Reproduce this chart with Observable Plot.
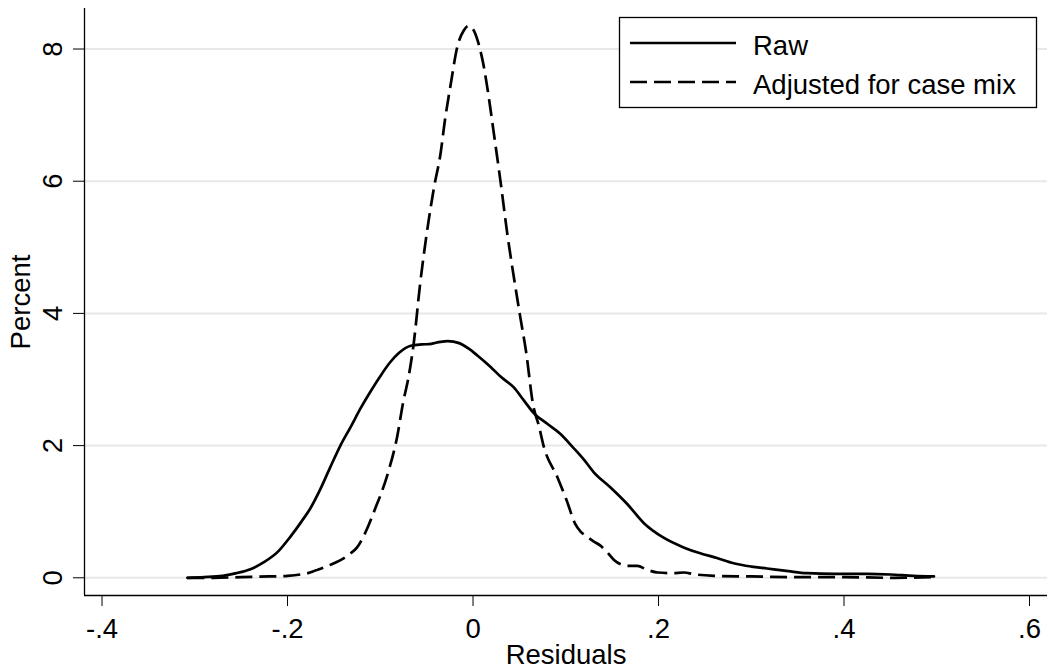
<!DOCTYPE html>
<html><head><meta charset="utf-8">
<script src="https://cdn.jsdelivr.net/npm/d3@7"></script>
<script src="https://cdn.jsdelivr.net/npm/@observablehq/plot@0.6"></script>
<style>
html,body{margin:0;padding:0;background:#fff;}
#wrap{position:relative;width:1050px;height:671px;}
</style></head><body><div id="wrap"></div>
<script>
const seriesNames = ["Raw", "Adjusted for case mix"];
const xTicks = [-0.4, -0.2, 0, 0.2, 0.4, 0.6];
const yTicks = [0, 2, 4, 6, 8];
const xDomain = [-0.4189, 0.6194];
const yDomain = [-0.268, 8.613];

const rawX = [-0.308,-0.29,-0.27,-0.255,-0.24,-0.225,-0.21,-0.197,-0.185,-0.175,-0.165,-0.154,-0.143,-0.132,-0.121,-0.11,-0.1,-0.09,-0.08,-0.067,-0.055,-0.045,-0.035,-0.027,-0.015,-0.005,0.005,0.019,0.03,0.044,0.055,0.065,0.08,0.094,0.108,0.12,0.13,0.148,0.166,0.184,0.205,0.227,0.245,0.263,0.281,0.3,0.317,0.34,0.36,0.39,0.425,0.45,0.475,0.497];
const rawY = [0,0.01,0.03,0.07,0.13,0.24,0.4,0.62,0.85,1.06,1.33,1.67,2.0,2.28,2.57,2.83,3.05,3.25,3.4,3.51,3.53,3.54,3.57,3.58,3.55,3.47,3.36,3.19,3.04,2.88,2.68,2.5,2.33,2.18,1.97,1.78,1.6,1.37,1.12,0.83,0.61,0.46,0.37,0.3,0.22,0.17,0.14,0.1,0.07,0.06,0.06,0.05,0.03,0.02];

const adjX = [-0.308,-0.28,-0.25,-0.22,-0.2,-0.186,-0.178,-0.17,-0.16,-0.15,-0.14,-0.132,-0.125,-0.119,-0.114,-0.109,-0.104,-0.1,-0.091,-0.082,-0.075,-0.07,-0.064,-0.057,-0.05,-0.042,-0.035,-0.03,-0.024,-0.017,-0.01,-0.005,0.0,0.006,0.011,0.017,0.022,0.03,0.037,0.044,0.051,0.057,0.065,0.071,0.076,0.091,0.101,0.11,0.116,0.123,0.13,0.137,0.145,0.152,0.16,0.167,0.177,0.188,0.199,0.215,0.227,0.24,0.26,0.3,0.35,0.4,0.45,0.497];
const adjY = [0,0,0.01,0.02,0.03,0.05,0.07,0.11,0.16,0.22,0.29,0.37,0.46,0.6,0.75,0.92,1.1,1.24,1.62,2.12,2.68,3.0,3.54,4.45,5.2,5.91,6.42,6.95,7.47,8.03,8.28,8.35,8.3,8.08,7.78,7.27,6.77,5.96,5.2,4.55,3.94,3.44,2.6,2.3,2.0,1.52,1.17,0.82,0.7,0.62,0.55,0.49,0.38,0.27,0.2,0.18,0.18,0.12,0.08,0.07,0.08,0.05,0.03,0.02,0.01,0.01,0.0,0.01];

const rawData = rawX.map((x, i) => ({series: seriesNames[0], x, y: rawY[i]}));
const adjData = adjX.map((x, i) => ({series: seriesNames[1], x, y: adjY[i]}));

const fmt = v => v === 0 ? "0" : (v < 0 ? "-" : "") + String(+Math.abs(v).toFixed(1)).replace(/^0\./, ".");
const FONT = "'Liberation Sans', Arial, Helvetica, sans-serif";

const chart = Plot.plot({
  width: 1050, height: 671,
  marginLeft: 84, marginRight: 3, marginTop: 8, marginBottom: 76,
  style: {fontFamily: FONT, fontSize: "27.5px", color: "#000", background: "#fff"},
  x: {domain: xDomain},
  y: {domain: yDomain},
  marks: [
    Plot.gridY(yTicks, {stroke: "#e8e8e8", strokeOpacity: 1, strokeWidth: 2}),
    Plot.axisX(xTicks, {tickSize: 11, tickPadding: 12, tickFormat: fmt, stroke: "#000",
      label: "Residuals", labelAnchor: "center", labelOffset: 68, labelArrow: "none"}),
    Plot.axisY(yTicks, {tickSize: 11, tickPadding: 12, tickRotate: -90, tickFormat: d => String(d), stroke: "#000",
      label: "Percent", labelAnchor: "center", labelOffset: 74, labelArrow: "none"}),
    Plot.ruleX([xDomain[0]], {stroke: "#000", strokeWidth: 1.3}),
    Plot.ruleY([yDomain[0]], {stroke: "#000", strokeWidth: 1.3}),
    Plot.line(rawData, {x: "x", y: "y", stroke: "#000", strokeWidth: 2.7, curve: "monotone-x"}),
    Plot.line(adjData, {x: "x", y: "y", stroke: "#000", strokeWidth: 2.7, curve: "monotone-x", strokeDasharray: "17,7", strokeLinecap: "butt"})
  ]
});
const wrap = document.getElementById("wrap");
wrap.appendChild(chart);

// legend overlay (inside plot region, as in the reference)
const leg = d3.create("svg")
  .attr("width", 1050).attr("height", 671)
  .style("position", "absolute").style("left", "0px").style("top", "0px")
  .style("pointer-events", "none");
leg.append("rect").attr("x", 619.5).attr("y", 17.5).attr("width", 417).attr("height", 90)
  .attr("fill", "#fff").attr("stroke", "#000").attr("stroke-width", 1.3);
const rows = [
  {name: seriesNames[0], dash: null, ly: 43, ty: 55},
  {name: seriesNames[1], dash: "17,7", ly: 82, ty: 94}
];
for (const r of rows) {
  const ln = leg.append("line").attr("x1", 630).attr("x2", 736).attr("y1", r.ly).attr("y2", r.ly)
    .attr("stroke", "#000").attr("stroke-width", 2.7);
  if (r.dash) ln.attr("stroke-dasharray", r.dash);
  leg.append("text").attr("x", 753).attr("y", r.ty).attr("font-family", FONT).attr("font-size", "27.5px")
    .attr("fill", "#000").text(r.name);
}
wrap.appendChild(leg.node());
</script></body></html>
